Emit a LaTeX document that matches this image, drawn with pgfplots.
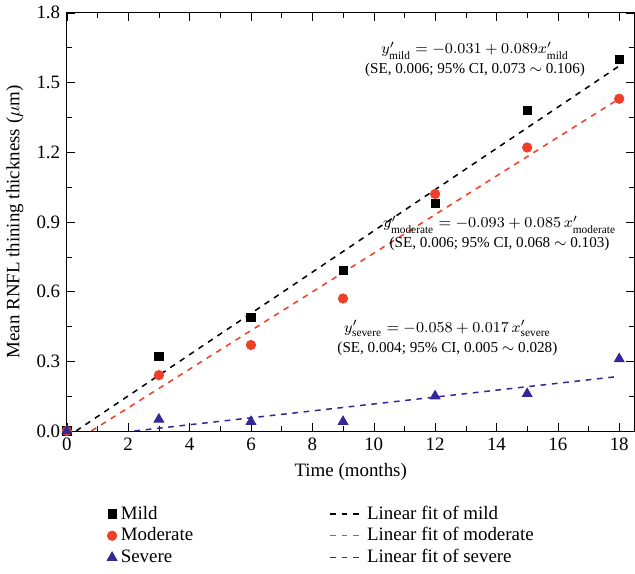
\documentclass[border=0pt]{standalone}
\usepackage{pgfplots}
\pgfplotsset{compat=1.18}
\usepackage{fontspec}
\setmainfont{Liberation Serif}
\definecolor{mred}{RGB}{238,64,40}
\definecolor{mblue}{RGB}{50,40,150}
\begin{document}
\begin{tikzpicture}
\begin{axis}[
  scale only axis, width=300pt, height=221pt,
  xmin=0, xmax=18.5, ymin=0, ymax=1.8,
  xtick={0,2,...,18}, ytick={0,0.3,...,1.8},
  yticklabel style={/pgf/number format/.cd,fixed,fixed zerofill,precision=1},
  /pgf/number format/assume math mode=true,
  tick align=inside, minor x tick num=1, minor y tick num=1,
  tick style={black},
  xlabel={Time (months)}, ylabel={Mean RNFL thining thickness ($\mu$m)},
  ticklabel style={font=\normalsize},
  legend style={at={(0.45,-0.16)}, anchor=north, draw=none, legend columns=2,
    /tikz/every even column/.append style={column sep=70pt}, font=\normalsize,
    row sep=-1pt},
  legend cell align=left,
]
\addplot[only marks, mark=square*, mark size=2.2pt, black] coordinates {(0,0)(3,0.32)(6,0.49)(9,0.69)(12,0.98)(15,1.38)(18,1.60)};
\addlegendentry{Mild}
\addplot[dashed, black, thick] coordinates {(0.3,0)(18,1.571)};
\addlegendentry{Linear fit of mild}
\addplot[only marks, mark=*, mark size=2.5pt, mred] coordinates {(0,0)(3,0.24)(6,0.37)(9,0.57)(12,1.02)(15,1.22)(18,1.43)};
\addlegendentry{Moderate}
\addplot[dashed, mred, thick] coordinates {(0.8,0)(18,1.43)};
\addlegendentry{Linear fit of moderate}
\addplot[only marks, mark=triangle*, mark size=3pt, mblue] coordinates {(0,0)(3,0.05)(6,0.04)(9,0.04)(12,0.15)(15,0.16)(18,0.31)};
\addlegendentry{Severe}
\addplot[dashed, mblue, thick] coordinates {(2.2,0)(18,0.235)};
\addlegendentry{Linear fit of severe}
\node[font=\footnotesize, align=center, inner sep=1pt] at (axis cs:13.3,1.6) {$y'_{\mathrm{mild}}=-0.031+0.089x'_{\mathrm{mild}}$\\[1pt](SE, 0.006; 95\% CI, 0.073 $\sim$ 0.106)};
\node[font=\footnotesize, align=center, inner sep=1pt] at (axis cs:14.1,0.85) {$y'_{\mathrm{moderate}}=-0.093+0.085\,x'_{\mathrm{moderate}}$\\[1pt](SE, 0.006; 95\% CI, 0.068 $\sim$ 0.103)};
\node[font=\footnotesize, align=center, inner sep=1pt] at (axis cs:12.4,0.4) {$y'_{\mathrm{severe}}=-0.058+0.017\,x'_{\mathrm{severe}}$\\[1pt](SE, 0.004; 95\% CI, 0.005 $\sim$ 0.028)};
\end{axis}
\end{tikzpicture}
\end{document}
